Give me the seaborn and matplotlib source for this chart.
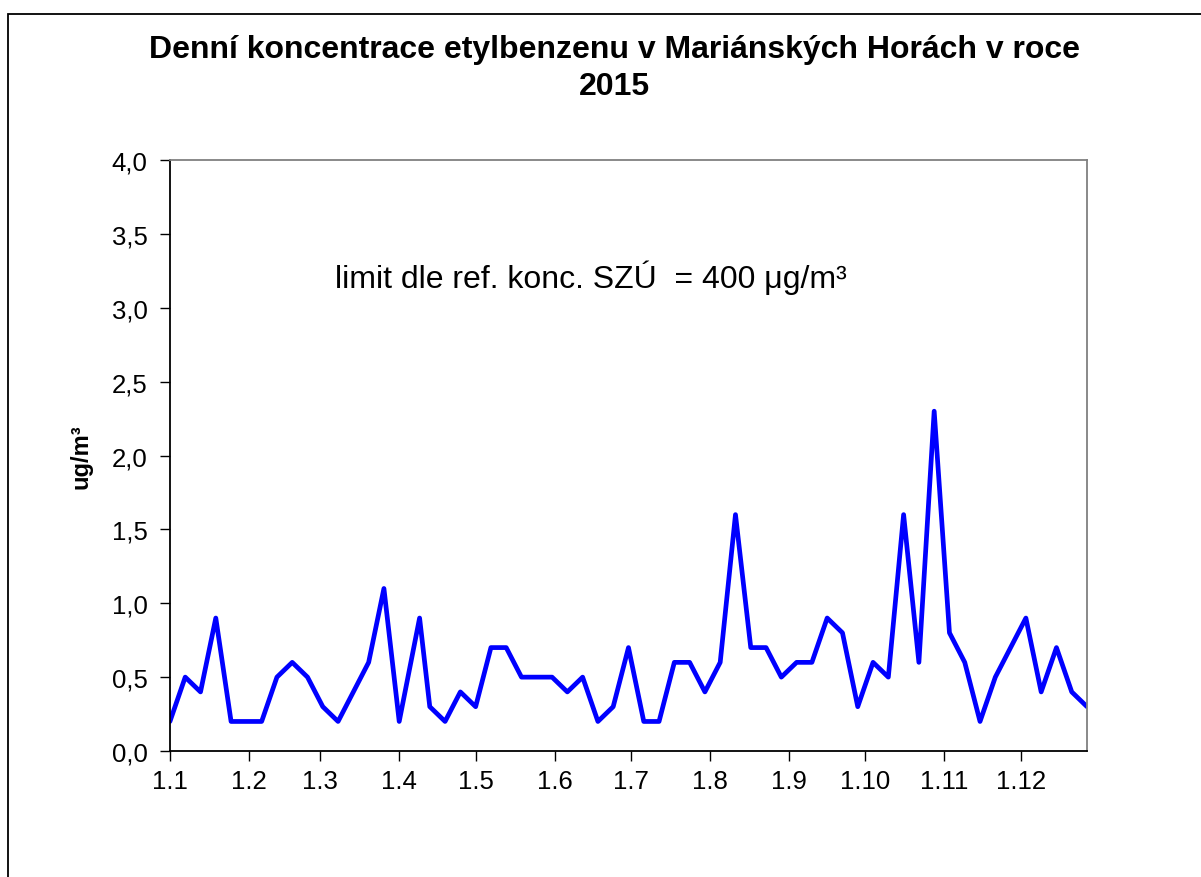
import numpy as np
import pandas as pd
import seaborn as sns
from matplotlib import pyplot as plt
import matplotlib.dates as mdates
from matplotlib.ticker import FuncFormatter, MultipleLocator
from matplotlib.patches import Rectangle

# sampling days (every 6th day, one shifted around Easter)
dates = [
	"2015-01-01", "2015-01-07", "2015-01-13", "2015-01-19", "2015-01-25", "2015-01-31",
	"2015-02-06", "2015-02-12", "2015-02-18", "2015-02-24", "2015-03-02", "2015-03-08",
	"2015-03-14", "2015-03-20", "2015-03-26", "2015-04-01", "2015-04-09", "2015-04-13",
	"2015-04-19", "2015-04-25", "2015-05-01", "2015-05-07", "2015-05-13", "2015-05-19",
	"2015-05-25", "2015-05-31", "2015-06-06", "2015-06-12", "2015-06-18", "2015-06-24",
	"2015-06-30", "2015-07-06", "2015-07-12", "2015-07-18", "2015-07-24", "2015-07-30",
	"2015-08-05", "2015-08-11", "2015-08-17", "2015-08-23", "2015-08-29", "2015-09-04",
	"2015-09-10", "2015-09-16", "2015-09-22", "2015-09-28", "2015-10-04", "2015-10-10",
	"2015-10-16", "2015-10-22", "2015-10-28", "2015-11-03", "2015-11-09", "2015-11-15",
	"2015-11-21", "2015-11-27", "2015-12-03", "2015-12-09", "2015-12-15", "2015-12-21",
	"2015-12-27",
]
etylbenzen = [
	0.2, 0.5, 0.4, 0.9, 0.2, 0.2, 0.2, 0.5, 0.6, 0.5, 0.3, 0.2,
	0.4, 0.6, 1.1, 0.2, 0.9, 0.3, 0.2, 0.4, 0.3, 0.7, 0.7, 0.5,
	0.5, 0.5, 0.4, 0.5, 0.2, 0.3, 0.7, 0.2, 0.2, 0.6, 0.6, 0.4,
	0.6, 1.6, 0.7, 0.7, 0.5, 0.6, 0.6, 0.9, 0.8, 0.3, 0.6, 0.5,
	1.6, 0.6, 2.3, 0.8, 0.6, 0.2, 0.5, 0.7, 0.9, 0.4, 0.7, 0.4,
	0.3,
]

title = "Denní koncentrace etylbenzenu v Mariánských Horách v roce\n2015"
note = "limit dle ref. konc. SZÚ  = 400 μg/m³"
ylab = "ug/m³"

df = pd.DataFrame({"datum": pd.to_datetime(dates), "hodnota": etylbenzen})

sns.set_style("white")
plt.rcParams['font.family'] = ['Liberation Sans', 'DejaVu Sans']
plt.rcParams['text.color'] = 'black'

fig = plt.figure(figsize=(12.01, 8.78), dpi=100)
ax = fig.add_axes([0.1415, 0.1435, 0.9051 - 0.1415, 0.8166 - 0.1435])

sns.lineplot(data=df, x="datum", y="hodnota", ax=ax, color="#0000ff", linewidth=3.4)

ax.set_xlim(df["datum"].iloc[0], df["datum"].iloc[-1])
ax.set_ylim(0, 4)
ax.yaxis.set_major_locator(MultipleLocator(0.5))
ax.yaxis.set_major_formatter(FuncFormatter(lambda v, p: f"{v:.1f}".replace(".", ",")))
ax.xaxis.set_major_locator(mdates.MonthLocator())
ax.xaxis.set_major_formatter(FuncFormatter(lambda v, p: f"{mdates.num2date(v).day}.{mdates.num2date(v).month}"))

ax.tick_params(axis="both", direction="out", length=7, width=1, color="black",
	labelsize=18.5, labelcolor="black", left=True, bottom=True)
ax.tick_params(axis="y", pad=9)
ax.tick_params(axis="x", pad=6)
ax.set_xlabel("")
ax.set_ylabel(ylab, fontsize=17, fontweight="bold", labelpad=14, color="black")

for s in ["left", "bottom"]:
	ax.spines[s].set_color("black")
	ax.spines[s].set_linewidth(1.3)
for s in ["top", "right"]:
	ax.spines[s].set_color("#808080")
	ax.spines[s].set_linewidth(1.3)

ax.text(0.18, 0.785, note, transform=ax.transAxes, fontsize=23, va="baseline", ha="left", color="black")

fig.text(0.512, 1 - 35 / 878, title, ha="center", va="top", fontsize=23,
	fontweight="bold", linespacing=1.3, color="black")

# outer chart frame (right and bottom edges are cut off in the original)
fig.patches.append(Rectangle((8 / 1201, -0.05), 1.1, 1 - 15 / 878 + 0.05, transform=fig.transFigure,
	fill=False, edgecolor="black", linewidth=1.3))

fig.savefig("out.png", dpi=100)
